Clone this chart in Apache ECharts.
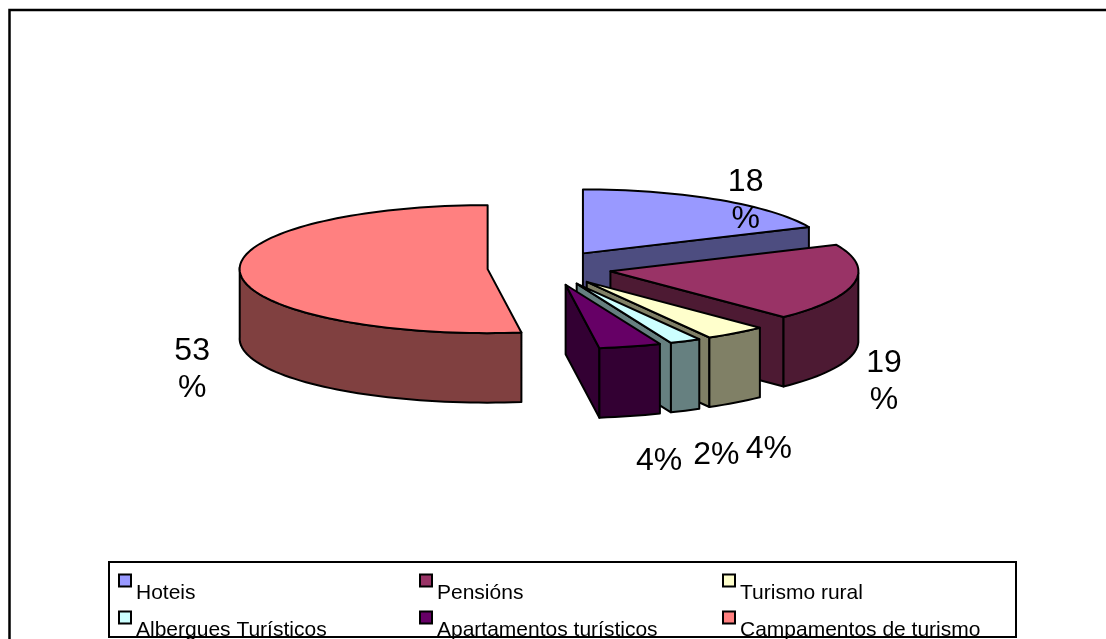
<!DOCTYPE html>
<html><head><meta charset="utf-8">
<style>html,body{margin:0;padding:0;background:#fff}#c{width:1106px;height:639px}</style>
<script src="https://cdn.jsdelivr.net/npm/echarts@6/dist/echarts.min.js"></script>
</head><body><div id="c"></div>
<script>
const categories = ['Hoteis','Pensións','Turismo rural','Albergues Turísticos','Apartamentos turísticos','Campamentos de turismo'];
const values = [18,19,4,2,4,53];
const wrapPercent = [true,true,false,false,false,true];
const topColors = ['#9999FF','#993366','#FFFFCC','#CCFFFF','#660066','#FF8080'];
const sideColors = ['#4D4D80','#4D1A33','#808066','#668080','#330033','#804040'];
const labelOffsets = [[29,1],[30,99],[33,116],[31,114],[29,115],[-48,96]];
const legendSlots = [[118,555.5],[419,555.5],[722,555.5],[118,592.5],[419,592.5],[722,592.5]];

const PIE = {cx:549.5, cy:268, rx:248, ry:64, depth:69.5, explode:62, explodeTilt:0.28};
const total = values.reduce((a,b)=>a+b,0);
const rad = d => d*Math.PI/180;
const warp = d => d + 1.5*(1-Math.cos(rad(d)));

function slices(){
  let a = 0;
  return values.map((v,i)=>{
    const start = a, end = a + v/total*360; a = end;
    const mid = warp((start+end)/2);
    const c = [PIE.cx + PIE.explode*Math.sin(rad(mid)), PIE.cy - PIE.explode*PIE.explodeTilt*Math.cos(rad(mid))];
    const at = d => { const t = rad(warp(d)); return [c[0]+PIE.rx*Math.sin(t), c[1]-PIE.ry*Math.cos(t)]; };
    const arc = [], front = [];
    const n = Math.max(4, Math.ceil((end-start)/2));
    for(let k=0;k<=n;k++){
      const d = start+(end-start)*k/n;
      arc.push(at(d));
    }
    const fs = Math.max(start,90), fe = Math.min(end,270);
    if(fe>fs){
      const m = Math.max(4, Math.ceil((fe-fs)/2));
      for(let k=0;k<=m;k++) front.push(at(fs+(fe-fs)*k/m));
    }
    const mt = rad(mid);
    const anchor = [c[0]+PIE.rx*Math.sin(mt), c[1]-PIE.ry*Math.cos(mt)];
    return {c, arc, front, anchor, firstVisible:Math.sin(rad(start))<-1e-6, lastVisible:Math.sin(rad(end))>1e-6};
  });
}
const geo = slices();
const down = p => [p[0], p[1]+PIE.depth];
const line = {stroke:'#000', lineWidth:2, lineJoin:'round'};

function renderSlice(i){
  return function(){
    const g = geo[i], arc = g.arc, first = arc[0], last = arc[arc.length-1];
    const shade = {fill:sideColors[i], ...line};
    const children = [];
    if(g.firstVisible) children.push({type:'polygon', shape:{points:[g.c,first,down(first),down(g.c)]}, style:shade});
    if(g.lastVisible) children.push({type:'polygon', shape:{points:[g.c,last,down(last),down(g.c)]}, style:shade});
    if(g.front.length) children.push({type:'polygon', shape:{points:g.front.concat(g.front.map(down).reverse())}, style:shade});
    children.push({type:'polygon', shape:{points:[g.c].concat(arc)}, style:{fill:topColors[i], ...line}});
    return {type:'group', children};
  };
}

const series = categories.map((name,i)=>({
  type:'custom', name, coordinateSystem:'none', data:[values[i]],
  itemStyle:{color:topColors[i]},
  renderItem:renderSlice(i), silent:true, animation:false, z:2+i, clip:false
}));

const legends = categories.map((name,i)=>({
  show:true, left:legendSlots[i][0], top:legendSlots[i][1], padding:0, itemGap:0,
  itemWidth:12, itemHeight:12, selectedMode:false, z:6,
  data:[{name, icon:'rect', itemStyle:{color:topColors[i], borderColor:'#000', borderWidth:2}}],
  formatter:n=>'\n'+n,
  textStyle:{fontFamily:'"Liberation Sans"', fontSize:21, color:'#000', lineHeight:25}
}));

const labels = categories.map((name,i)=>({
  type:'text', z:10,
  x:geo[i].anchor[0]+labelOffsets[i][0], y:geo[i].anchor[1]+labelOffsets[i][1],
  style:{text:values[i]+(wrapPercent[i]?'\n':'')+'%', fontFamily:'"Liberation Sans"', fontSize:32, lineHeight:37,
    fill:'#000', align:'center', verticalAlign:'middle'}
}));

const chart = echarts.init(document.getElementById('c'), null, {renderer:'canvas'});
chart.setOption({
  animation:false, backgroundColor:'#fff',
  legend:legends,
  series,
  graphic:{elements:[
    {type:'polyline', z:0, shape:{points:[[1106,10],[9.5,10],[9.5,639]]}, style:{fill:'none',stroke:'#000',lineWidth:2.5}},
    {type:'rect', z:1, shape:{x:109,y:562,width:907,height:75}, style:{fill:'#fff',stroke:'#000',lineWidth:2}},
    ...labels
  ]}
});
</script></body></html>
